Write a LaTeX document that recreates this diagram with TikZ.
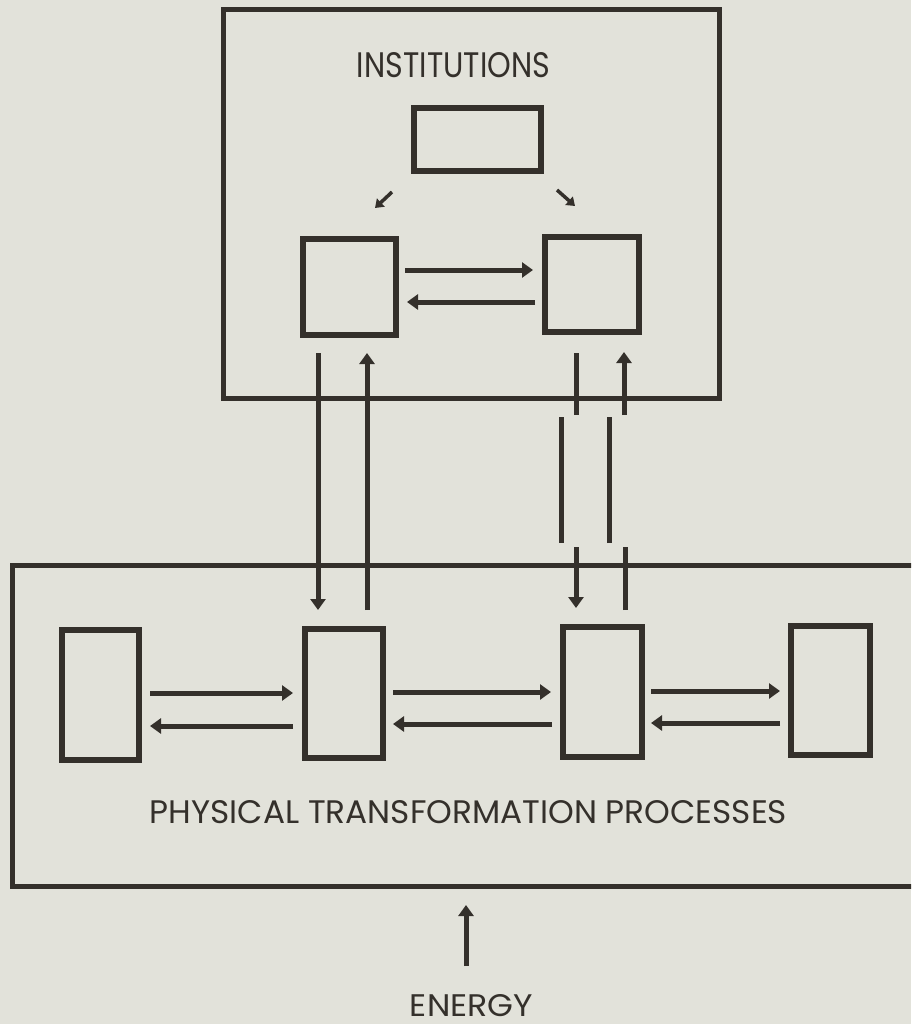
\documentclass[tikz,border=0pt]{standalone}
\usepackage{fontspec}
\setmainfont{Poppins}
\usetikzlibrary{arrows.meta,calc}
\definecolor{paper}{RGB}{226,226,218}
\definecolor{ink}{RGB}{52,48,43}
\tikzset{
  boxnode/.style={draw=ink,line width=5.5pt,inner sep=0pt,outer sep=0pt},
  frame/.style={draw=ink,line width=5pt,inner sep=0pt,outer sep=0pt},
  arr/.style={draw=ink,line width=5pt,-{Triangle[width=15pt,length=11pt]}},
  smallarr/.style={draw=ink,line width=3.5pt,-{Triangle[width=11pt,length=8pt]}},
  seg/.style={draw=ink,line width=5pt},
  label/.style={text=ink,inner sep=0pt,outer sep=0pt,anchor=base}
}
\begin{document}
\begin{tikzpicture}[x=1pt,y=-1pt]
\useasboundingbox (0,0) rectangle (911,1024);
\fill[paper] (0,0) rectangle (911,1024);
\clip (0,0) rectangle (911,1024);

% frames
\node[frame,minimum width=496pt,minimum height=388pt] (inst) at (471,204) {};
\node[frame,minimum width=948pt,minimum height=321pt] (phys) at (486,725.5) {};

% institution boxes
\node[boxnode,minimum width=127pt,minimum height=63pt] (itop) at (477.5,139.5) {};
\node[boxnode,minimum width=93pt,minimum height=96pt] (ib1) at (349.5,287) {};
\node[boxnode,minimum width=94pt,minimum height=95pt] (ib2) at (592,284.5) {};

% physical boxes
\node[boxnode,minimum width=77pt,minimum height=130pt] (pb1) at (100.5,695) {};
\node[boxnode,minimum width=78pt,minimum height=129pt] (pb2) at (344,693.5) {};
\node[boxnode,minimum width=79pt,minimum height=130pt] (pb3) at (602.5,692) {};
\node[boxnode,minimum width=79pt,minimum height=129pt] (pb4) at (830.5,690.5) {};

% labels
\node[label] (tinst) at (453.5,78) {\resizebox{193pt}{25pt}{INSTITUTIONS}};
\node[label] (tphys) at (468.5,823) {\resizebox{637pt}{23pt}{PHYSICAL TRANSFORMATION PROCESSES}};
\node[label] (energy) at (471.5,1016) {\resizebox{123pt}{22pt}{ENERGY}};

% institution arrows
\draw[smallarr] ($(itop.center)+(-85.5,52.5)$) -- ($(itop.center)+(-102.5,68.5)$);
\draw[smallarr] ($(itop.center)+(79.5,50.5)$) -- ($(itop.center)+(97.5,66.5)$);
\draw[arr] ($(ib1.center)+(55.5,-17)$) -- ($(ib2.center)+(-59,-14.5)$);
\draw[arr] ($(ib2.center)+(-57,17.5)$) -- ($(ib1.center)+(57.5,15)$);

% left verticals
\draw[arr] ($(ib1.center)+(-31.5,66)$) -- ($(pb2.center)+(-26,-83.5)$);
\draw[arr] ($(pb2.center)+(23,-83.5)$) -- ($(ib1.center)+(17.5,66)$);

% right broken verticals
\coordinate (d1) at (576,415);
\coordinate (d2) at (561,417);
\coordinate (d3) at (561,543);
\coordinate (d4) at (576,547);
\coordinate (u1) at (625,547);
\coordinate (u2) at (609,543);
\coordinate (u3) at (609,417);
\coordinate (u4) at (624,415);
\draw[seg] ($(ib2.center)+(-16,68.5)$) -- (d1);
\draw[seg] (d2) -- (d3);
\draw[arr] (d4) -- ($(pb3.center)+(-26.5,-84)$);
\draw[seg] ($(pb3.center)+(22.5,-82)$) -- (u1);
\draw[seg] (u2) -- (u3);
\draw[arr] (u4) -- ($(ib2.center)+(32,67.5)$);

% physical arrows
\draw[arr] ($(pb1.center)+(49.5,-2)$) -- ($(pb2.center)+(-51,-0.5)$);
\draw[arr] ($(pb2.center)+(-51,32.5)$) -- ($(pb1.center)+(49.5,31)$);
\draw[arr] ($(pb2.center)+(49,-1.5)$) -- ($(pb3.center)+(-51.5,0)$);
\draw[arr] ($(pb3.center)+(-50.5,32)$) -- ($(pb2.center)+(49,30.5)$);
\draw[arr] ($(pb3.center)+(48.5,-1)$) -- ($(pb4.center)+(-50.5,0.5)$);
\draw[arr] ($(pb4.center)+(-50.5,32.5)$) -- ($(pb3.center)+(48.5,31)$);

% energy
\draw[arr] ($(energy.north)+(-5.5,-28)$) -- ($(phys.south)+(-20,19)$);
\end{tikzpicture}
\end{document}
